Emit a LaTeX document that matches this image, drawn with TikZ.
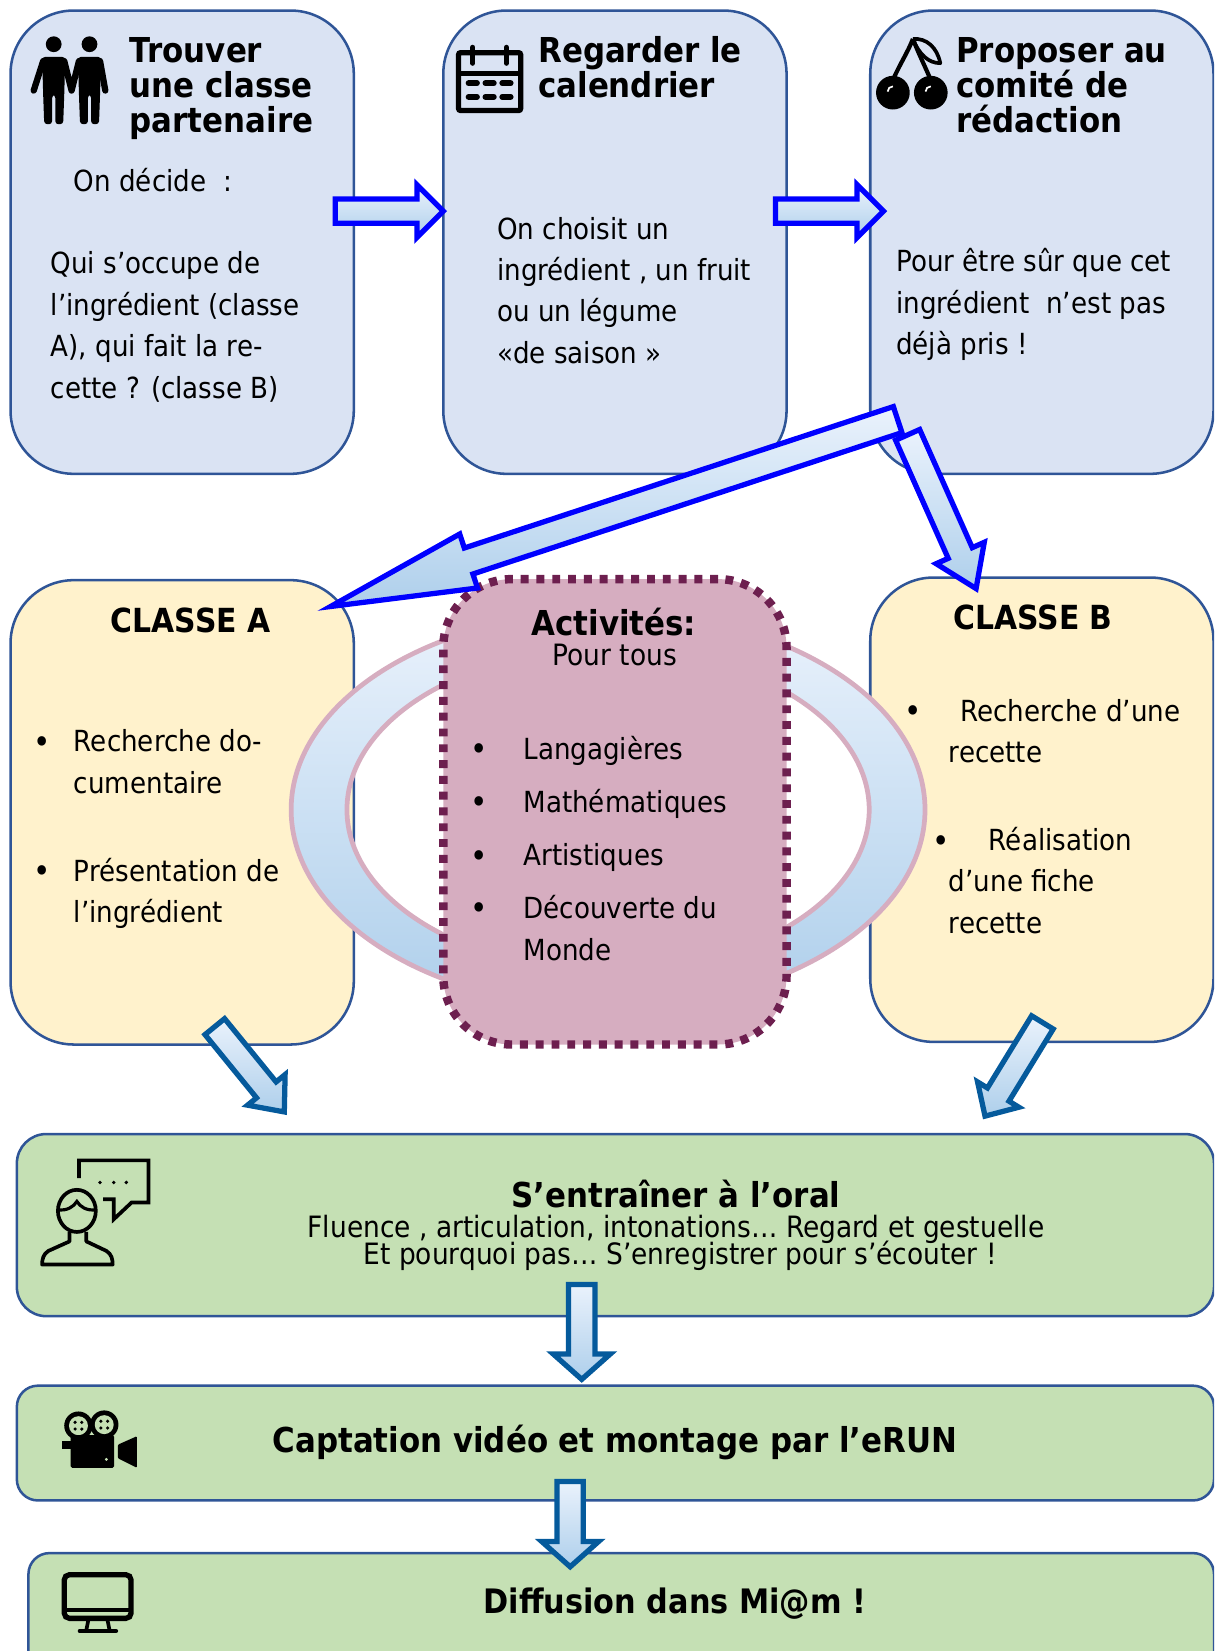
\documentclass[tikz,border=0pt]{standalone}
\usepackage{fontspec}
\setmainfont[FakeStretch=0.9]{DejaVu Sans}
\usetikzlibrary{calc,shapes.geometric}
\definecolor{boxline}{HTML}{2F5597}
\definecolor{bluefill}{HTML}{DAE3F3}
\definecolor{yellowfill}{HTML}{FFF2CC}
\definecolor{greenfill}{HTML}{C5E0B4}
\definecolor{pinkfill}{HTML}{D6ADC0}
\definecolor{plumline}{HTML}{6D1F4F}
\definecolor{gradtop}{HTML}{EAF2FC}
\definecolor{gradbot}{HTML}{AECFEB}
\definecolor{arrowblue}{HTML}{0000FF}
\definecolor{arrowdark}{HTML}{055A9C}
\newcommand{\Rr}{\rule{0pt}{30pt}}
\newcommand{\blockarrow}[6]{%
  \begin{scope}
  \coordinate (ab) at ($(#2)!#5pt!(#1)$);
  \path[#6] ($(#1)!#3pt!90:(#2)$) -- ($(ab)!#3pt!90:(#2)$) -- ($(ab)!#4pt!90:(#2)$) -- (#2)
     -- ($(ab)!#4pt!-90:(#2)$) -- ($(ab)!#3pt!-90:(#2)$) -- ($(#1)!#3pt!-90:(#2)$) -- cycle;
  \end{scope}}
\tikzset{
  panel/.style={draw=boxline,line width=2.4pt,inner sep=0pt,minimum width=#1},
  bluebox/.style={panel=326pt,fill=bluefill,minimum height=440pt,rounded corners=60pt},
  yellowbox/.style={panel=326pt,fill=yellowfill,minimum height=441pt,rounded corners=60pt},
  greenbox/.style={draw=boxline,line width=2.4pt,inner sep=0pt,fill=greenfill},
  blockblue/.style={draw=arrowblue,line width=5pt,top color=gradtop,bottom color=gradbot},
  blockdark/.style={draw=arrowdark,line width=5pt,top color=gradtop,bottom color=gradbot},
  body/.style={anchor=north west,inner sep=0pt,align=left,yshift=29.2pt,
     font=\fontsize{27.6}{39.4}\selectfont},
  titlefont/.style={anchor=north west,inner sep=0pt,align=left,yshift=30pt,
     font=\fontsize{32.6}{33.5}\selectfont\bfseries},
  headc/.style={anchor=base,inner sep=0pt,font=\fontsize{32.6}{34}\selectfont\bfseries},
  headk/.style={anchor=base,inner sep=0pt,font=\fontsize{31.5}{34}\selectfont\bfseries},
  bodyc/.style={anchor=base,inner sep=0pt,yshift=-0.8pt,font=\fontsize{27.9}{30}\selectfont},
  dotb/.style={anchor=center,inner sep=0pt,yshift=-2.5pt,font=\fontsize{31}{30}\selectfont},
  ico/.style={line width=5pt,draw=black,fill=none}
}
\begin{document}
\begin{tikzpicture}[x=1pt,y=-1pt]
\useasboundingbox (0,0) rectangle (1153,1568);
\clip (0,0) rectangle (1153,1568);
% boxes
\node[bluebox] (b1) at (173,230) {};
\node[bluebox] (b2) at (584,230) {};
\node[bluebox] (b3) at (989.5,230) {};
\node[yellowbox] (ca) at (173,771.5) {};
\node[yellowbox] (cb) at (989.5,769) {};
% ring
\path[draw=pinkfill,line width=4.5pt,even odd rule,top color=gradtop,bottom color=gradbot]
  (577.5,769) ellipse [x radius=301,y radius=188] (577.5,769) ellipse [x radius=248,y radius=153];
\node[draw=plumline,line width=8pt,dash pattern=on 7.5pt off 7.5pt,fill=pinkfill,inner sep=0pt,
  minimum width=326pt,minimum height=442pt,rounded corners=65pt] (act) at (584,771) {};
\node[greenbox,minimum width=1137pt,minimum height=173pt,rounded corners=28pt] (g1) at (584.5,1163.5) {};
\node[greenbox,minimum width=1137pt,minimum height=109pt,rounded corners=20pt] (g2) at (584.5,1370.5) {};
\node[greenbox,minimum width=1126pt,minimum height=130pt,rounded corners=20pt] (g3) at (590,1540) {};
% titles
\node[titlefont] (t1) at (123,59) {\Rr Trouver\\une classe\\partenaire};
\node[titlefont] (t2) at (511,59) {\Rr Regarder le\\calendrier};
\node[titlefont] (t3) at (908,59) {\Rr Proposer au\\comité de\\rédaction};
% body
\node[body] (d1) at (70,181) {\Rr On décide\ \ :};
\node[body] (d2) at (48,259) {\Rr Qui s’occupe de\\l’ingrédient (classe\\A), qui fait la re-\\cette ? (classe B)};
\node[body] (d3) at (472,226) {\Rr On choisit un\\ingrédient , un fruit\\ou un légume\\«de saison »};
\node[body] (d4) at (851,257) {\Rr Pour être sûr que cet\\ingrédient\ \ n’est pas\\déjà pris !};
\node[headk] (hA) at (181,601) {CLASSE A};
\node[headk] (hB) at (981,598) {CLASSE B};
\node[headc] (hC) at (583,604) {Activités:};
\node[bodyc] (hD) at (584,631) {Pour tous};
% class A list
\node[dotb] (ba1) at (40,705) {•};
\node[body] (la1) at (70,713) {\Rr Recherche do-\\cumentaire};
\node[dotb] (ba2) at (40,828) {•};
\node[body] (la2) at (70,836) {\Rr Présentation de\\l’ingrédient};
% class B list
\node[dotb] (bb1) at (867,676) {•};
\node[body] (lb1) at (912,684) {\Rr Recherche d’une};
\node[body] (lb2) at (901,723) {\Rr recette};
\node[dotb] (bb2) at (894,799) {•};
\node[body] (lb3) at (939,807) {\Rr Réalisation};
\node[body] (lb4) at (901,846) {\Rr d’une fiche\\recette};
% activities list
\node[dotb] (bc1) at (455,712) {•};
\node[body] (lc1) at (497,720) {\Rr Langagières};
\node[dotb] (bc2) at (455,762) {•};
\node[body] (lc2) at (497,771) {\Rr Mathématiques};
\node[dotb] (bc3) at (455,813) {•};
\node[body] (lc3) at (497,821) {\Rr Artistiques};
\node[dotb] (bc4) at (455,863) {•};
\node[body,font=\fontsize{27.6}{40.4}\selectfont] (lc4) at (497,871) {\Rr Découverte du\\Monde};
% green text
\node[headc] (e1) at (642,1147) {S’entraîner à l’oral};
\node[bodyc] (e2) at (642,1174) {Fluence , articulation, intonations… Regard et gestuelle};
\node[bodyc] (e3) at (646,1200) {Et pourquoi pas… S’enregistrer pour s’écouter !};
\node[headc] (e4) at (584,1379) {Captation vidéo et montage par l’eRUN};
\node[headk,font=\fontsize{32}{34}\selectfont\bfseries] (e5) at (641,1532) {Diffusion dans Mi@m !};
% people icon
\fill (51,42) circle (7.5);
\fill (85,42) circle (7.5);
\foreach \c in {51,85}{
  \fill[rounded corners=3pt] (\c-11,54) -- (\c+11,54) -- (\c+10,90) -- (\c+9,118) -- (\c+1.5,118) -- (\c+1.5,90) -- (\c-1.5,90) -- (\c-1.5,118) -- (\c-9,118) -- (\c-10,90) -- cycle;
}
\draw[line width=6pt,line cap=round,line join=round] (41,58) -- (32,86);
\draw[line width=6pt,line cap=round,line join=round] (61,58) -- (68,86) -- (75,58);
\draw[line width=6pt,line cap=round,line join=round] (95,58) -- (100,86);
% calendar icon
\draw[ico,rounded corners=2pt] (435.5,50) rectangle (494.5,105);
\draw[line width=5pt] (435.5,70) -- (494.5,70);
\draw[line width=5pt,line cap=round] (449,45) -- (449,60);
\draw[line width=5pt,line cap=round] (481,45) -- (481,60);
\foreach \yy in {79,92}{\foreach \xa in {445,461,477}{
  \draw[line width=5.5pt,line cap=round] (\xa,\yy) -- (\xa+8,\yy);}}
% cherries
\fill (848,88) circle (16);
\fill (884,88) circle (16);
\draw[white,line width=1.6pt] (843,87) arc (180:270:5);
\draw[white,line width=1.6pt] (879,87) arc (180:270:5);
\draw[line width=4pt] (848,76) .. controls (855,60) and (862,50) .. (867,37);
\draw[line width=4pt] (884,76) .. controls (878,62) and (872,50) .. (867,37);
\draw[line width=3.5pt,line join=round] (867,37) .. controls (880,36) and (890,45) .. (893,60) .. controls (882,60) and (873,52) .. (867,37);
% person with bubble
\draw[line width=3.5pt,line join=miter] (75,1119) -- (75,1102) -- (141,1102) -- (141,1142) -- (125,1142) -- (108,1158) -- (108,1139) -- (98,1139);
\foreach \xa in {95,108,120}{\fill (\xa,1123) circle (1.8);}
\draw[line width=3.5pt] (73,1150) ellipse [x radius=18,y radius=20];
\draw[line width=3pt] (55,1149) .. controls (64,1150) and (70,1146) .. (73,1141) .. controls (76,1146) and (82,1150) .. (91,1149);
\draw[line width=3.5pt,line join=round] (66,1170) -- (66,1179) -- (46,1188) .. controls (41,1191) and (40,1196) .. (40,1201) -- (107,1201) .. controls (107,1196) and (106,1191) .. (101,1188) -- (82,1179) -- (82,1170);
% film camera
\foreach \cx/\cy in {74.5/1354,99/1353}{
  \fill (\cx,\cy) circle (13.5);
  \fill[greenfill] (\cx,\cy) circle (9);
  \foreach \a in {0,90,180,270}{\fill (\cx,\cy)++(\a+45:4.5) circle (1.7);}
}
\fill[rounded corners=1.5pt] (67,1363) rectangle (108.5,1394);
\fill (59,1369) rectangle (68,1376);
\fill[rounded corners=1pt] (112,1372) -- (130,1364) -- (130,1394) -- (112,1385) -- cycle;
\fill[greenfill] (101,1386) circle (1.5);
% monitor
\draw[ico,rounded corners=5pt] (61,1495.5) rectangle (124.5,1537);
\draw[line width=4pt] (61,1529) -- (124.5,1529);
\draw[line width=3.5pt] (84,1538) -- (82,1548);
\draw[line width=3.5pt] (102,1538) -- (104,1548);
\draw[line width=4.5pt,line cap=round] (76,1549) -- (110,1549);
% block arrows
\coordinate (a1s) at (318.5,200.5); \coordinate (a1e) at (421,200.5);
\coordinate (a2s) at (736.5,200.5); \coordinate (a2e) at (839,200.5);
\coordinate (a3s) at (852.5,398.5); \coordinate (a3e) at (314,576);
\coordinate (a4s) at (862,413); \coordinate (a4e) at (927,559);
\coordinate (a5s) at (204,975); \coordinate (a5e) at (270,1056);
\coordinate (a6s) at (990,971); \coordinate (a6e) at (935.5,1060);
\coordinate (a7s) at (552.5,1220); \coordinate (a7e) at (552.5,1310);
\coordinate (a8s) at (541.5,1407); \coordinate (a8e) at (541.5,1488);
\blockarrow{a1s}{a1e}{11.5}{25}{25}{blockblue}
\blockarrow{a2s}{a2e}{11.5}{25}{25}{blockblue}
\blockarrow{a4s}{a4e}{12.5}{25}{37}{blockblue}
\blockarrow{a3s}{a3e}{13}{27}{138}{blockblue}
\blockarrow{a5s}{a5e}{12}{23}{27}{blockdark}
\blockarrow{a6s}{a6e}{12}{23}{24}{blockdark}
\blockarrow{a7s}{a7e}{12.5}{27}{24}{blockdark}
\blockarrow{a8s}{a8e}{12.5}{27}{24}{blockdark}
\end{tikzpicture}
\end{document}
